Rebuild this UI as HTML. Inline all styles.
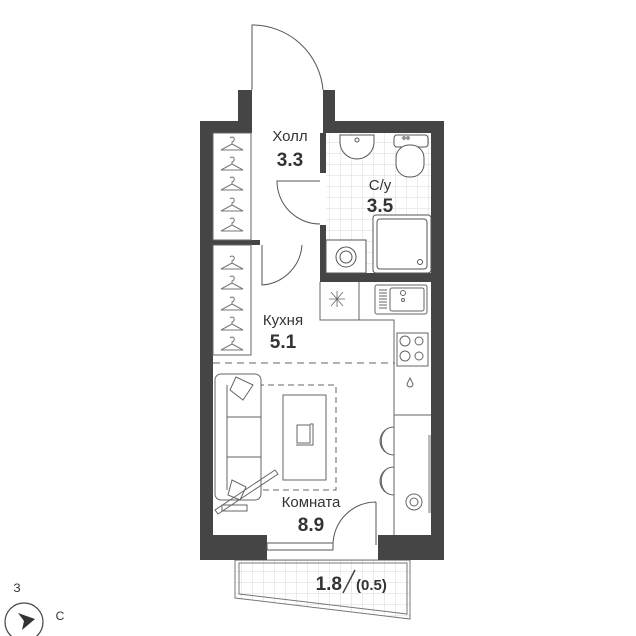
<!DOCTYPE html>
<html><head><meta charset="utf-8"><style>
html,body{margin:0;padding:0;background:#fff}
svg{display:block}
text{font-family:"Liberation Sans",sans-serif;fill:#333}
</style></head><body>
<svg width="636" height="636" viewBox="0 0 636 636" xmlns="http://www.w3.org/2000/svg">
<defs>
<pattern id="tile" width="11" height="11" patternUnits="userSpaceOnUse">
<path d="M11 0V11M0 11H11" stroke="#d8d8d8" stroke-width="1" fill="none"/>
</pattern>
<g id="hg" fill="none" stroke="#777" stroke-width="1">
<path d="M-11 7 L0 1 L11 7 Z M0 1 V-1 Q3 -2 2 -5 Q0 -7 -2 -5"/>
</g>
</defs>
<!-- bathroom tiles -->
<rect x="326" y="133" width="105" height="140" fill="url(#tile)"/>
<!-- balcony -->
<polygon points="235,560 410,560 410,619 235,598" fill="url(#tile)" stroke="#777" stroke-width="1"/>
<polygon points="239,563 407,563 407,614 239,594" fill="none" stroke="#777" stroke-width="1"/>
<!-- walls -->
<g fill="#454545">
<rect x="200" y="121" width="13" height="439"/>
<rect x="200" y="121" width="52" height="12"/>
<rect x="238" y="90" width="14" height="43"/>
<rect x="323" y="90" width="12" height="43"/>
<rect x="323" y="121" width="120" height="12"/>
<rect x="431" y="121" width="13" height="439"/>
<rect x="200" y="535" width="67" height="25"/>
<rect x="378" y="535" width="66" height="25"/>
<rect x="320" y="133" width="6" height="40"/>
<rect x="320" y="225" width="6" height="57"/>
<rect x="320" y="273" width="111" height="9"/>
<rect x="213" y="240" width="47" height="5"/>
</g>
<!-- doors -->
<g fill="none" stroke="#555" stroke-width="1">
<path d="M252 90 V25 A71 71 0 0 1 323 90"/>
<path d="M320 181 H277 A43 43 0 0 0 320 224"/>
<path d="M262 245 V285 A43 43 0 0 0 302 245"/>
<path d="M376 502 V545 M376 502 A43 43 0 0 0 333 545"/>
<rect x="267" y="543" width="66" height="7"/>
</g>
<!-- closets -->
<g fill="none" stroke="#666" stroke-width="1">
<rect x="213" y="133" width="38" height="107"/>
<rect x="213" y="245" width="38" height="110"/>
</g>
<use href="#hg" x="232" y="143"/><use href="#hg" x="232" y="163"/><use href="#hg" x="232" y="183"/><use href="#hg" x="232" y="204"/><use href="#hg" x="232" y="224"/>
<use href="#hg" x="232" y="262"/><use href="#hg" x="232" y="282"/><use href="#hg" x="232" y="303"/><use href="#hg" x="232" y="323"/><use href="#hg" x="232" y="343"/>
<!-- bathroom fixtures -->
<g fill="#fff" stroke="#555" stroke-width="1">
<path d="M340 135 H374 V142 A17 17 0 0 1 340 142 Z"/>
<circle cx="357" cy="140" r="2"/>
<rect x="394" y="135" width="34" height="12" rx="3"/>
<rect x="396" y="145" width="28" height="32" rx="13"/>
<circle cx="404" cy="138" r="1.2"/><circle cx="408" cy="138" r="1.2"/>
<rect x="373" y="215" width="58" height="58" rx="3"/>
<rect x="377" y="219" width="50" height="50" rx="3"/>
<circle cx="420" cy="262" r="2.5"/>
<rect x="326" y="240" width="40" height="33"/>
<circle cx="346" cy="257" r="10"/><circle cx="346" cy="257" r="6"/>
</g>
<!-- kitchen -->
<g fill="none" stroke="#666" stroke-width="1">
<path d="M320 282 V320 H394 V535 M359 282 V320 M394 415 H431"/>
<path d="M213 363 H395" stroke-dasharray="7 5"/>
<rect x="375" y="285" width="52" height="29" rx="2"/>
<rect x="390" y="288" width="34" height="23" rx="2"/>
<path d="M379 290 H387 M379 293 H387 M379 296 H387 M379 299 H387 M379 302 H387 M379 305 H387 M379 308 H387"/>
<circle cx="403" cy="293" r="2.5"/><circle cx="403" cy="300" r="1.5"/>
<rect x="397" y="333" width="31" height="33"/>
<circle cx="405" cy="341" r="5"/><circle cx="419" cy="341" r="4"/><circle cx="405" cy="356" r="5"/><circle cx="419" cy="356" r="4"/>
<path d="M410 378 L407 384 A3 3 0 0 0 413 384 Z"/>
<rect x="428" y="435" width="3" height="78" fill="#bbb" stroke="none"/>
<circle cx="414" cy="502" r="8"/><circle cx="414" cy="502" r="4"/>
<path d="M331 292 L343 306 M343 292 L331 306 M337 291 V307 M329 299 H345" stroke-width="0.8"/>
<path d="M394 427 A14 14 0 0 0 394 455 M388 428 A16 16 0 0 0 388 454 M385 430 A15 15 0 0 0 385 452"/>
<path d="M394 467 A14 14 0 0 0 394 495 M388 468 A16 16 0 0 0 388 494 M385 470 A15 15 0 0 0 385 492"/>
<!-- living -->
<rect x="258" y="385" width="78" height="105" stroke-dasharray="6 4"/>
<rect x="283" y="395" width="43" height="85" fill="#fff"/>
<rect x="297" y="425" width="13" height="18"/><path d="M310 424 L313 424 L313 445 L296 445"/>
<rect x="215" y="374" width="46" height="126" rx="6" fill="#fff"/>
<path d="M227 385 V490 M227 417 H261 M227 457 H261 M236 377 L253 385 L243 400 L230 390 Z M232 480 L246 487 L240 500 L228 495 Z"/>
<path d="M215 510 L275 470 L278 474 L218 514 Z"/>
<rect x="222" y="505" width="25" height="6"/>
</g>
<!-- labels -->
<text x="290" y="141" font-size="15" text-anchor="middle">Холл</text>
<text x="290" y="166" font-size="19" font-weight="bold" text-anchor="middle">3.3</text>
<text x="380" y="190" font-size="15" text-anchor="middle">С/у</text>
<text x="380" y="212" font-size="19" font-weight="bold" text-anchor="middle">3.5</text>
<text x="283" y="325" font-size="15" text-anchor="middle">Кухня</text>
<text x="283" y="348" font-size="19" font-weight="bold" text-anchor="middle">5.1</text>
<text x="311" y="507" font-size="15" text-anchor="middle">Комната</text>
<text x="311" y="531" font-size="19" font-weight="bold" text-anchor="middle">8.9</text>
<text x="342" y="590" font-size="19" font-weight="bold" text-anchor="end">1.8</text>
<path d="M343 593 L355 570" stroke="#444" stroke-width="1.5"/>
<text x="356" y="590" font-size="15" font-weight="bold">(0.5)</text>
<!-- compass -->
<text x="17" y="592" font-size="12" text-anchor="middle" fill="#555">З</text>
<circle cx="24" cy="622" r="19" fill="none" stroke="#444" stroke-width="1.2"/>
<path d="M18 613 L35 619 L22 630 L24 621 Z" fill="#333"/>
<text x="60" y="620" font-size="12" text-anchor="middle" fill="#555">С</text>
</svg>
</body></html>
